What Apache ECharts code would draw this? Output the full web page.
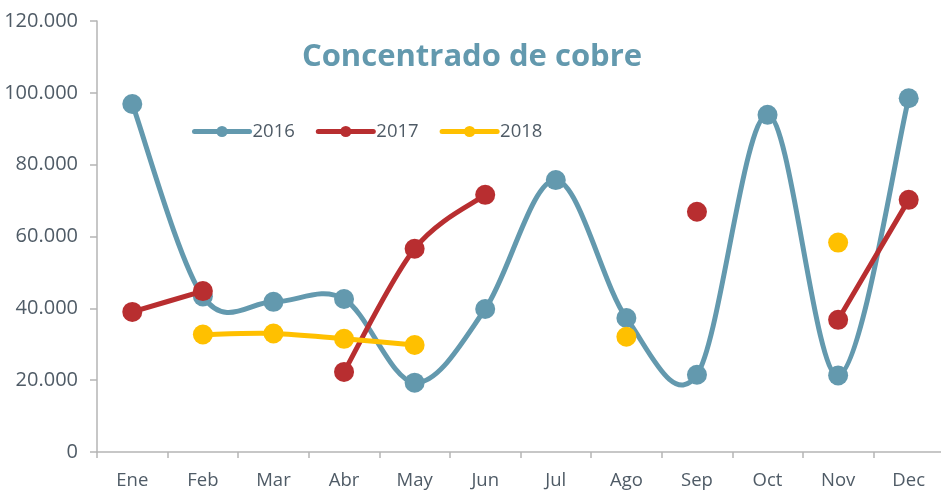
<!DOCTYPE html>
<html><head><meta charset="utf-8">
<script src="https://cdn.jsdelivr.net/npm/echarts@6/dist/echarts.min.js"></script>
<style>html,body{margin:0;padding:0;background:#fff}#c{width:941px;height:491px}</style>
</head><body><div id="c"></div>
<script>
const months = ['Ene','Feb','Mar','Abr','May','Jun','Jul','Ago','Sep','Oct','Nov','Dec'];
const s2016 = [96900, 43300, 41800, 42600, 19300, 39800, 75700, 37300, 21500, 93900, 21300, 98500];
const s2017 = [39000, 44800, null, 22300, 56600, 71600, null, null, 66900, null, 36800, 70200];
const s2018 = [null, 32700, 33000, 31500, 29800, null, null, 32100, null, null, 58300, null];
const yTicks = [0, 20000, 40000, 60000, 80000, 100000, 120000];

const FONT = 'Open Sans';
const txt = '#4f5b66';
const AXC = '#b5b5b5';
function fmt(v){ return String(v).replace(/\B(?=(\d{3})+(?!\d))/g, '.'); }

function markers(name, data, color, z){
  return {
    name, type:'line', data, connectNulls:false, z,
    symbol:'circle', symbolSize:20,
    lineStyle:{width:5, color, opacity:0}, itemStyle:{color},
    emphasis:{disabled:true}, silent:true
  };
}
function curve(name, vals, color, z){
  return {
    name, type:'custom', z, silent:true,
    encode:{x:0, y:1},
    data: vals.map((v,i)=>[i, v == null ? 0 : v]),
    renderItem(params, api){
      const i = params.dataIndex;
      if (i >= vals.length-1 || vals[i] == null || vals[i+1] == null) return null;
      const P = k => api.coord([k, vals[k]]);
      const p1 = P(i), p2 = P(i+1);
      const p0 = (i > 0 && vals[i-1] != null) ? P(i-1) : p1;
      const p3 = (i+2 < vals.length && vals[i+2] != null) ? P(i+2) : p2;
      return {
        type:'bezierCurve',
        shape:{
          x1:p1[0], y1:p1[1], x2:p2[0], y2:p2[1],
          cpx1:p1[0]+(p2[0]-p0[0])/6, cpy1:p1[1]+(p2[1]-p0[1])/6,
          cpx2:p2[0]-(p3[0]-p1[0])/6, cpy2:p2[1]-(p3[1]-p1[1])/6
        },
        style:{stroke:color, lineWidth:5, fill:null, lineCap:'round'}
      };
    }
  };
}
const C16 = '#6399ae', C17 = '#b82e30', C18 = '#ffc000';
const chart = echarts.init(document.getElementById('c'));
chart.setOption({
  animation:false,
  backgroundColor:'#fff',
  title:{text:'Concentrado de cobre', left:467, textAlign:'center', top:37,
    textStyle:{fontFamily:FONT, fontWeight:'bold', fontSize:31, color:C16}},
  legend:{left:192, top:122, padding:0, itemWidth:55, itemHeight:14, itemGap:21,
    lineStyle:{width:5, opacity:1, cap:'round'},
    textStyle:{fontFamily:FONT, fontSize:18.5, color:txt, padding:[0,0,0,-2]},
    data:['2016','2017','2018']},
  grid:{left:97, width:847, top:21, bottom:39, containLabel:false, outerBoundsMode:'none'},
  xAxis:{type:'category', data:months, boundaryGap:true,
    axisLine:{lineStyle:{color:AXC, width:1.5}},
    axisTick:{show:true, length:6, lineStyle:{color:AXC, width:1.5}},
    axisLabel:{fontFamily:FONT, fontSize:18.5, color:txt, margin:19}},
  yAxis:{type:'value', min:0, max:120000, interval:20000,
    axisLine:{show:true, lineStyle:{color:AXC, width:1.5}},
    axisTick:{show:true, length:7, lineStyle:{color:AXC, width:1.5}},
    splitLine:{show:false},
    axisLabel:{fontFamily:FONT, fontSize:20, color:txt, margin:19, formatter:v=>fmt(v)}},
  series:[
    markers('2016', s2016, C16, 3), markers('2017', s2017, C17, 5), markers('2018', s2018, C18, 7),
    curve('2016', s2016, C16, 2), curve('2017', s2017, C17, 4), curve('2018', s2018, C18, 6)
  ]
});
</script></body></html>
